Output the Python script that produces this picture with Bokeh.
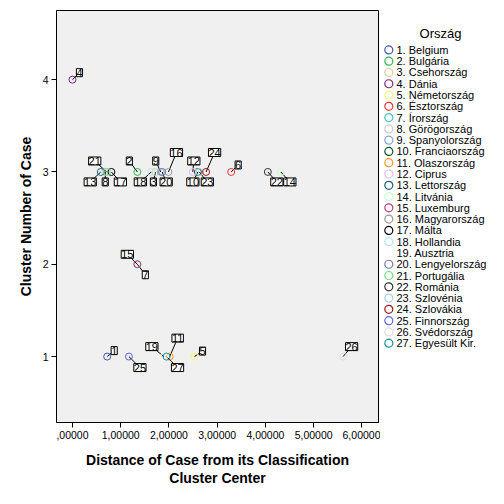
from bokeh.plotting import figure
from bokeh.models import ColumnDataSource, LabelSet, Range1d, FixedTicker
from bokeh.layouts import row
from bokeh.embed import file_html
from bokeh.resources import INLINE
from bokeh.core.properties import value

# ---------------- data ----------------
countries = ["Belgium", "Bulgária", "Csehország", "Dánia", "Németország", "Észtország",
             "Írország", "Görögország", "Spanyolország", "Franciaország", "Olaszország",
             "Ciprus", "Lettország", "Litvánia", "Luxemburg", "Magyarország", "Málta",
             "Hollandia", "Ausztria", "Lengyelország", "Portugália", "Románia",
             "Szlovénia", "Szlovákia", "Finnország", "Svédország", "Egyesült Kir."]
case_ids = list(range(1, 28))
cluster = [1, 3, 3, 4, 1, 3, 2, 3, 3, 3, 1, 3, 3, 3, 2, 3, 3, 3, 1, 3, 3, 3, 3, 3, 1, 1, 1]
distance = [0.72, 1.345, 1.72, 0.0, 2.53, 3.29, 1.345, 0.68, 1.83, 2.60, 2.015, 2.495, 0.586,
            4.32, 1.345, 1.99, 0.807, 1.635, 1.895, 1.86, 0.71, 4.05, 2.63, 2.77, 1.17,
            5.61, 1.95]
x_ticks = [0, 1, 2, 3, 4, 5, 6]
x_tick_labels = [",00000", "1,00000", "2,00000", "3,00000", "4,00000", "5,00000", "6,00000"]
y_ticks = [1, 2, 3, 4]
legend_title = "Ország"

# ---------------- styles / layout ----------------
colors = ["#3E58AC", "#2EB848", "#D3CE97", "#7C287D", "#FBF873", "#EF3338", "#48C2C5",
          "#CCCCCC", "#7AAAD5", "#0A562C", "#F8981D", "#DDBAF1", "#1A5F76", "#CCFFCC",
          "#BB3F7F", "#999999", "#000000", "#B6E7E8", "#FFFFFF", "#797AA7", "#70DC84",
          "#333333", "#ACD0EE", "#A21619", "#5D61FF", "#DDDDDD", "#1694A7"]
# label offsets in screen pixels (right, down)
lab_dx = [7, -8, -2, 7, 8, 7, 8, 0, -5, -5, 8, 1, -10.5, 9, -10, 8, 9, -11, -12, 4, -12, 9, 8, 8.5, 11, 8.5, 11]
lab_dy = [-6, -11, 10, -7, -5.5, -7, 10.5, 10, -11, 10, -18.5, -11, 10, 10, -10, -19.5, 10, 10, -10, 10, -11, 10, 10, -19.5, 11, -10, 11]

FONT = "Liberation Sans"
W, H = 380, 488
ML, MR, MT, MB = 56, 2, 10, 65
x0, x1 = -0.331, 6.344
y0, y1 = 0.286, 4.749
sx = (W - ML - MR) / (x1 - x0)
sy = (H - MT - MB) / (y1 - y0)

lx = [d + dx / sx for d, dx in zip(distance, lab_dx)]
ly = [c - dy / sy for c, dy in zip(cluster, lab_dy)]

src = ColumnDataSource(dict(x=distance, y=cluster, lx=lx, ly=ly,
                            lab=[str(i) for i in case_ids], color=colors))

p = figure(width=W, height=H, x_range=Range1d(x0, x1), y_range=Range1d(y0, y1),
           output_backend="svg", toolbar_location=None,
           min_border_left=ML, min_border_right=MR, min_border_top=MT, min_border_bottom=MB)
p.background_fill_color = "#F0F0F0"
p.border_fill_color = "white"
p.outline_line_color = "black"
p.outline_line_width = 1
p.grid.visible = False

p.xaxis.ticker = FixedTicker(ticks=x_ticks)
p.xaxis.major_label_overrides = {t: l for t, l in zip(x_ticks, x_tick_labels)}
p.yaxis.ticker = FixedTicker(ticks=y_ticks)
for ax in (p.xaxis, p.yaxis):
    ax.minor_tick_line_color = None
    ax.major_tick_in = 0
    ax.major_tick_out = 5
    ax.major_tick_line_color = "black"
    ax.axis_line_color = "black"
    ax.major_label_text_font = FONT
    ax.major_label_text_font_size = "10.5px"
    ax.major_label_text_color = "black"
    ax.major_label_standoff = 3
    ax.axis_label_text_font = FONT
    ax.axis_label_text_font_size = "14px"
    ax.axis_label_text_font_style = "bold"
    ax.axis_label_text_color = "black"
    ax.axis_label_text_line_height = 1.15
p.xaxis.axis_label = "Distance of Case from its Classification\nCluster Center"
p.yaxis.axis_label = "Cluster Number of Case"
p.xaxis.axis_label_standoff = 10
p.yaxis.axis_label_standoff = 6

p.segment(x0="x", y0="y", x1="lx", y1="ly", source=src, line_color="black", line_width=1)
p.scatter(x="x", y="y", source=src, size=7, fill_color=None, line_color="color", line_width=1)
labels = LabelSet(x="lx", y="ly", text="lab", source=src, text_align="center",
                  text_baseline="middle", text_font=value(FONT), text_font_size="11px",
                  text_color="black", background_fill_color="white",
                  border_line_color="black", border_line_width=1)
p.add_layout(labels)

# ---------------- legend panel ----------------
LW = 108
leg = figure(width=LW, height=H, x_range=Range1d(0, LW), y_range=Range1d(H, 0),
             output_backend="svg", toolbar_location=None, min_border=0,
             x_axis_location=None, y_axis_location=None)
leg.grid.visible = False
leg.outline_line_color = None
leg.background_fill_color = "white"
leg.border_fill_color = "white"
item_y = [46.7 + 13.36 * i for i in range(len(countries))]
leg_src = ColumnDataSource(dict(y=item_y, color=colors,
                                txt=[f"{i}. {c}" for i, c in zip(case_ids, countries)]))
leg.scatter(x=8.3, y="y", source=leg_src, size=8, fill_color=None, line_color="color", line_width=1.2)
leg.text(x=16, y="y", text="txt", source=leg_src, text_font=value(FONT), text_font_size="11px",
         text_baseline="middle", text_color="black")
leg.text(x=[60], y=[27], text=[legend_title], text_font=value(FONT), text_font_size="13px",
         text_align="center", text_baseline="middle", text_color="black")

layout = row(p, leg)
open("out.html", "w").write(file_html(layout, INLINE))
